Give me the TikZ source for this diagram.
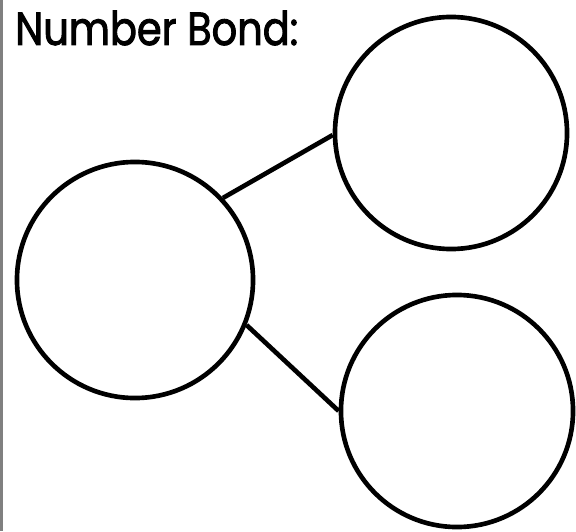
\documentclass[tikz,border=0pt]{standalone}
\usepackage{fontspec}
\setmainfont{Poppins}[FakeStretch=0.86, FakeBold=2]
\begin{document}
\begin{tikzpicture}[x=0.025cm, y=-0.025cm,
	    bond/.style={circle, draw=black, fill=white, line width=3.3pt, inner sep=0pt},
	    line/.style={draw=black, line width=3.3pt}]
	    \useasboundingbox (0,0) rectangle (576,531);
	    \draw[gray, line width=1.5pt] (1.5,0) -- (1.5,531);
	    
	    \node [anchor=base west, inner sep=0pt, font=\fontsize{33}{36}\selectfont] (title) at (15,45) {Number Bond:};
	    \node [bond, minimum size=5.9cm] (whole) at (135,280) {};
	    \node [bond, minimum size=5.8cm] (part1) at (451,133) {};
	    \node [bond, minimum size=5.8cm] (part2) at (457,411) {};
	    
	    \path [line] (whole.43) -- (part1.181);
	    \path [line] (whole.-22) -- (part2.180);
	\end{tikzpicture}
\end{document}
